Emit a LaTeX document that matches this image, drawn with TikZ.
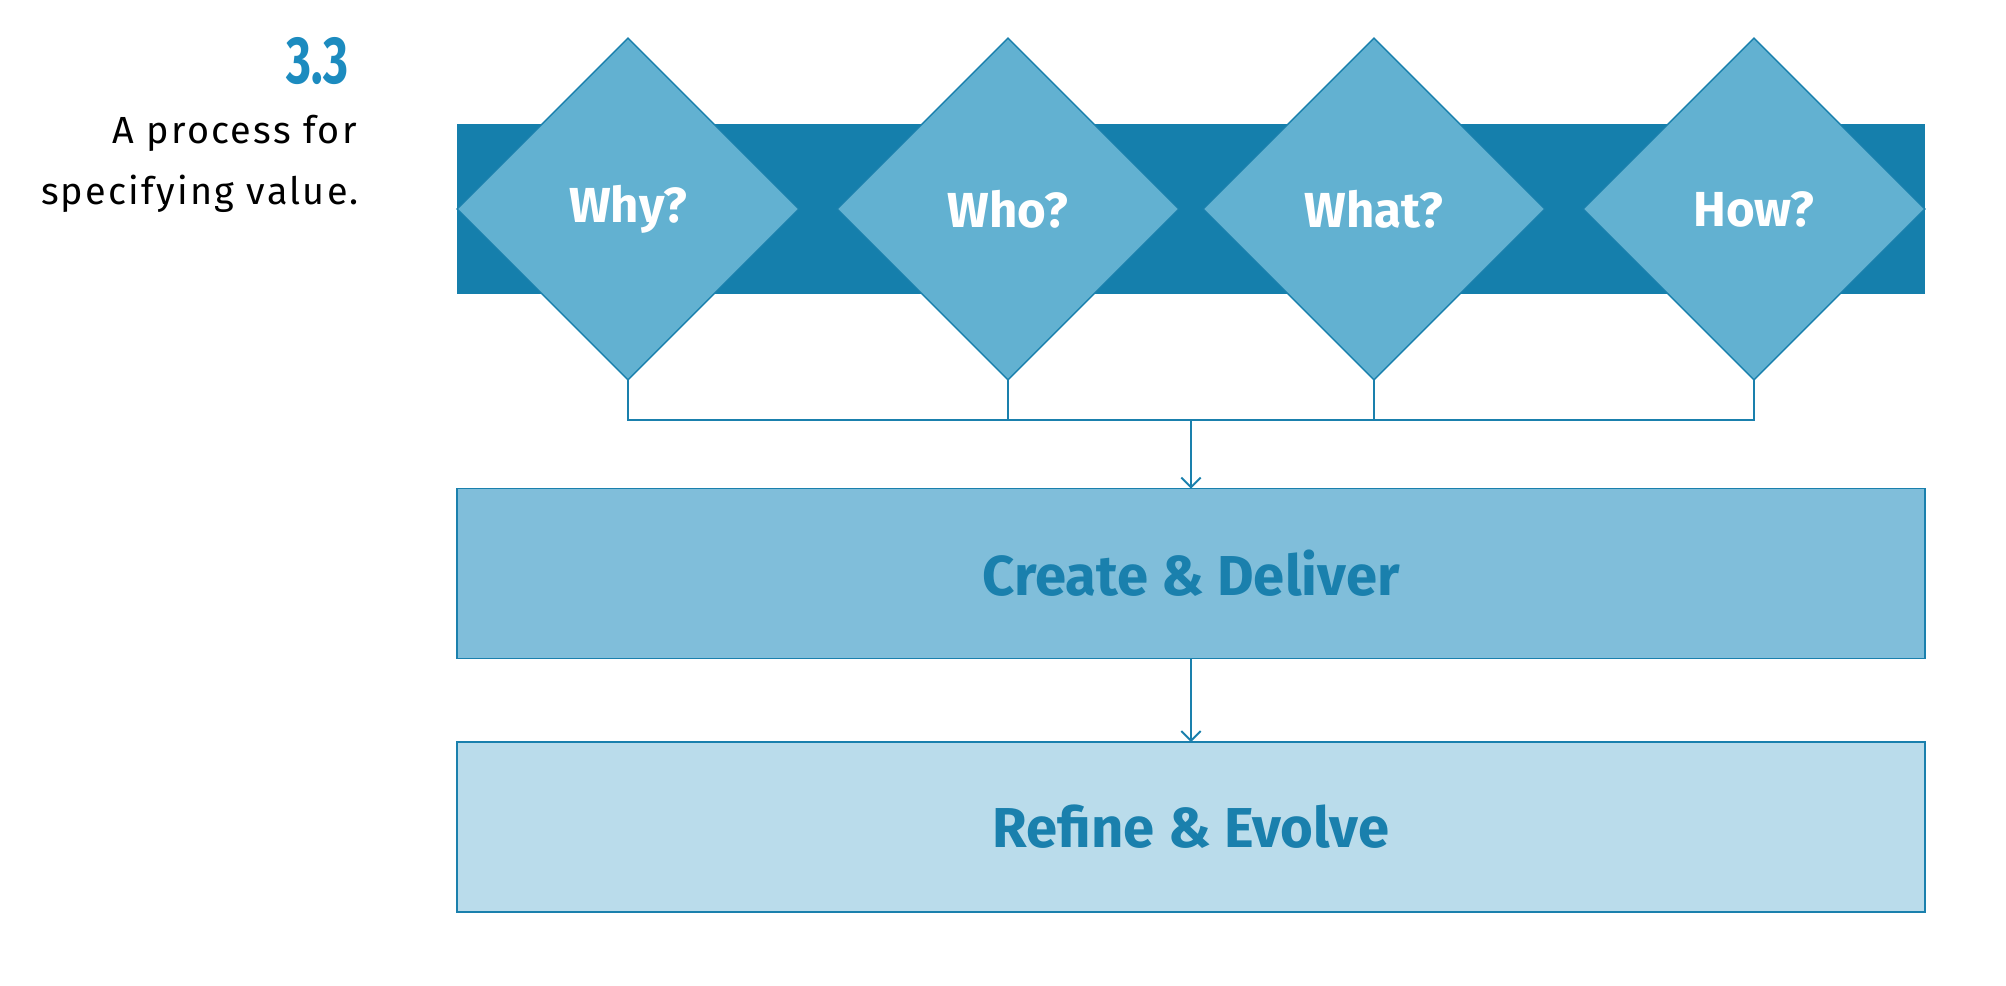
\documentclass[tikz,border=0pt]{standalone}
\usepackage{fontspec}
\setmainfont{Fira Sans}
\newfontfamily\capfont[LetterSpace=6]{Fira Sans}
\newfontfamily\numfont[FakeStretch=0.72]{Fira Sans}
\usetikzlibrary{shapes.geometric,arrows.meta}

\definecolor{bandblue}{HTML}{157FAC}
\definecolor{diamondblue}{HTML}{62B1D1}
\definecolor{createblue}{HTML}{80BEDA}
\definecolor{refineblue}{HTML}{BADCEB}
\definecolor{lineblue}{HTML}{1A80AD}
\definecolor{numblue}{HTML}{1C8BBF}

\tikzset{
	question/.style={diamond, draw=lineblue, line width=0.8pt, fill=diamondblue, minimum width=6.84cm, minimum height=6.84cm, inner sep=0pt, outer sep=0pt, text=white, font=\fontsize{28}{30}\selectfont\bfseries},
	stagebox/.style={rectangle, draw=lineblue, line width=1.1pt, minimum width=29.36cm, minimum height=3.4cm, inner sep=0pt, outer sep=0pt, text=lineblue, font=\fontsize{32}{34}\selectfont\bfseries},
	joinline/.style={draw=lineblue, line width=1.1pt},
	flow/.style={joinline, -{Straight Barb[length=5.5pt, width=11pt, line width=1.1pt]}}
}

\begin{document}
\begin{tikzpicture}[x=0.02cm, y=-0.02cm]
		%%%%% START %%%%%
		\useasboundingbox (0, 0) rectangle (2006, 986);
		
		\node[anchor=base east, inner sep=0pt, text=numblue] (num) at (349, 84) {\fontsize{38}{40}\selectfont\numfont\bfseries 3.3};
		\node[anchor=base east, inner sep=0pt] (capa) at (357, 144) {\fontsize{21.5}{24}\selectfont\capfont A process for};
		\node[anchor=base east, inner sep=0pt] (capb) at (359, 205) {\fontsize{21.5}{24}\selectfont\capfont specifying value.};
		
		\fill[bandblue] (457, 124) rectangle (1925, 294);
		
		\node[question] (why) at (628, 209) {Why?};
		\node[question] (who) at (1008, 209) {Who?};
		\node[question] (what) at (1374, 209) {What?};
		\node[question] (how) at (1754, 209) {How?};
		
		\node[stagebox, fill=createblue] (create) at (1191, 573.5) {Create \& Deliver};
		\node[stagebox, fill=refineblue] (refine) at (1191, 827) {Refine \& Evolve};
		
		\coordinate (join) at (1191, 420);
		\draw[joinline] (why.south) -- (why.south |- join) -- (how.south |- join) -- (how.south);
		\draw[joinline] (who.south) -- (who.south |- join);
		\draw[joinline] (what.south) -- (what.south |- join);
		
		\draw[flow] (join) -- (create.north);
		\draw[flow] (create.south) -- (refine.north);
		
		%%%%% END %%%%%
	\end{tikzpicture}
\end{document}
